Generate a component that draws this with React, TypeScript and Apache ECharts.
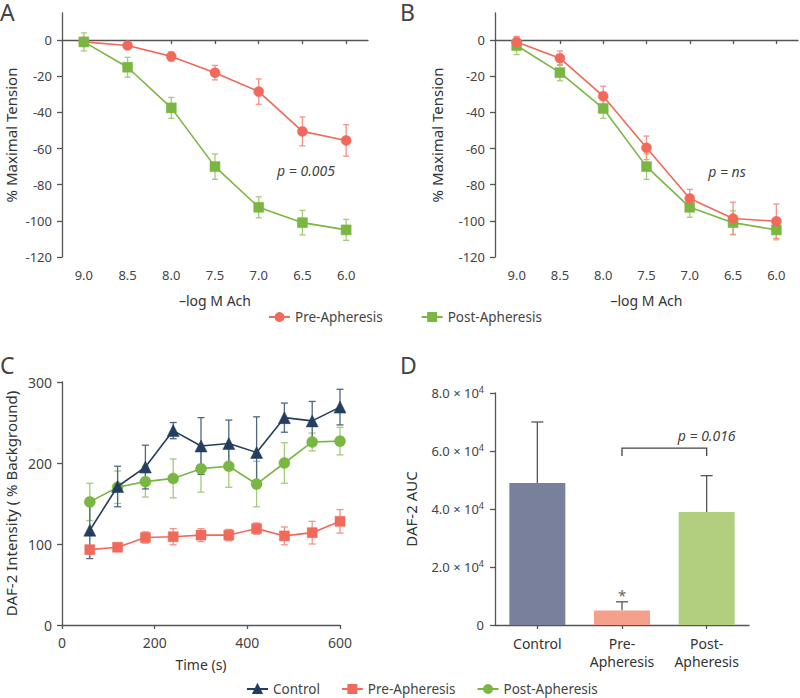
import React, { useEffect, useRef } from "react";
import * as echarts from "echarts";

// ---------- data ----------
const abDoses = ["9.0", "8.5", "8.0", "7.5", "7.0", "6.5", "6.0"];
const abYTicks = [-120, -100, -80, -60, -40, -20, 0];

const aPre = [-1, -3, -9, -18, -28.5, -50.5, -55.5];
const aPreErr = [1, 1, 2.5, 4, 7, 8, 8.7];
const aPost = [-1, -15, -37.5, -70, -92.5, -101, -105];
const aPostErr = [5, 5.5, 5.8, 7, 5.8, 6.8, 5.8];

const bPre = [-1, -10, -31, -59.6, -87.6, -98.7, -100.2];
const bPreErr = [3, 4, 5.5, 6.5, 5, 9, 9.5];
const bPost = [-3, -18, -37.8, -70, -92.5, -101, -105];
const bPostErr = [5, 4.5, 5.5, 7, 5.5, 6.5, 5.5];

const cTimes = [60, 120, 180, 240, 300, 360, 420, 480, 540, 600];
const cControl = [117, 171, 195, 240, 221, 224, 213, 256, 252, 269];
const cControlErr = [35, 25, 27, 10, 35, 29, 44, 18, 24, 22];
const cPre = [93, 96, 108, 109, 111, 111, 119, 110, 114, 128];
const cPreErr = [5, 4, 7, 10, 8, 7, 7, 11, 14, 14.5];
const cPost = [152, 170, 177, 181, 193, 196, 174, 200, 226, 227];
const cPostErr = [23, 20, 19, 24, 29, 26, 28, 25, 11, 17];

const dGroups = ["Control", "Pre-\nApheresis", "Post-\nApheresis"];
const dMean = [49000, 5000, 39000];
const dErr = [21000, 3000, 12500];
const dMarks = ["", "*", ""];
const dBracket = { from: 1, to: 2, top: 61000, leg: 58300, textAt: 65500, text: "p = 0.016" };

// ---------- styles ----------
const RED = "#F0695A";
const RED_ERR = "#F29488";
const GREEN = "#7AB642";
const GREEN_ERR = "#A3CB7A";
const NAVY = "#243E60";
const NAVY_ERR = "#4F6685";
const BAR_COLORS = ["#78809B", "#F4A08A", "#B1CF7E"];
const AXIS = "#555555";
const TEXT = "#444444";
const FONT = "Noto Sans";
const C_PREFIX = "C:";

function errRender(capHalf: number, color: string, lw: number, upOnly: boolean, marks?: string[]) {
  return (params: any, api: any) => {
    const x = api.value(0);
    const y = api.value(1);
    const e = api.value(2);
    const top = api.coord([x, y + e]);
    const bot = api.coord([x, upOnly ? y : y - e]);
    const style = { stroke: color, lineWidth: lw, fill: null };
    const children: any[] = [
      { type: "line", shape: { x1: top[0], y1: top[1], x2: bot[0], y2: bot[1] }, style },
      { type: "line", shape: { x1: top[0] - capHalf, y1: top[1], x2: top[0] + capHalf, y2: top[1] }, style },
    ];
    if (!upOnly) {
      children.push({ type: "line", shape: { x1: bot[0] - capHalf, y1: bot[1], x2: bot[0] + capHalf, y2: bot[1] }, style });
    }
    if (marks && marks[params.dataIndex]) {
      children.push({
        type: "text",
        x: top[0],
        y: top[1] + 1,
        style: { text: marks[params.dataIndex], fill: "#666", fontSize: 15, fontFamily: FONT, align: "center", verticalAlign: "bottom" },
      });
    }
    return { type: "group", children };
  };
}

function bracketRender(params: any, api: any) {
  const l = api.coord([dBracket.from, dBracket.top]);
  const r = api.coord([dBracket.to, dBracket.top]);
  const lLeg = api.coord([dBracket.from, dBracket.leg]);
  const t = api.coord([(dBracket.from + dBracket.to) / 2, dBracket.textAt]);
  return {
    type: "group",
    children: [
      {
        type: "polyline",
        shape: { points: [[l[0], lLeg[1]], [l[0], l[1]], [r[0], r[1]], [r[0], lLeg[1]]] },
        style: { stroke: "#444", lineWidth: 1.3, fill: null },
      },
      {
        type: "text",
        x: t[0],
        y: t[1],
        style: { text: dBracket.text, fill: TEXT, fontSize: 14, fontStyle: "italic", fontFamily: FONT, align: "center", verticalAlign: "middle" },
      },
    ],
  };
}

const axisLine = { show: true, lineStyle: { color: AXIS, width: 1.3 } };
const axisTickOut = { show: true, length: 4, lineStyle: { color: AXIS, width: 1.3 } };
const labelStyle = { color: TEXT, fontSize: 13, fontFamily: FONT };
const nameStyle = { color: "#333", fontSize: 13, fontFamily: FONT };
const yNameStyle = { color: "#333", fontSize: 15, fontFamily: FONT };
const legendText = { color: TEXT, fontSize: 13.5, fontFamily: FONT };

function abXAxis(gridIndex: number) {
  return {
    type: "category",
    gridIndex,
    data: abDoses,
    boundaryGap: true,
    axisLine,
    axisTick: { ...axisTickOut, alignWithLabel: true },
    axisLabel: { ...labelStyle, margin: 11 },
    name: "\u2013log M Ach",
    nameLocation: "middle",
    nameGap: 36,
    nameTextStyle: { ...nameStyle, fontSize: 14 },
    splitLine: { show: false },
  };
}

function abYAxis(gridIndex: number, nameGap: number) {
  return {
    type: "value",
    gridIndex,
    min: -120,
    max: 15,
    axisLine,
    axisTick: { ...axisTickOut, length: 5, customValues: abYTicks },
    axisLabel: { ...labelStyle, margin: 10, customValues: abYTicks },
    splitLine: { show: false },
    name: "% Maximal Tension",
    nameLocation: "middle",
    nameGap,
    nameTextStyle: yNameStyle,
  };
}

function lineSeries(name: string, data: any[], color: string, symbol: string, size: number, xi: number, yi: number, z: number) {
  return {
    type: "line",
    name,
    xAxisIndex: xi,
    yAxisIndex: yi,
    data,
    symbol,
    symbolSize: size,
    itemStyle: { color, borderColor: color, borderWidth: 0.5 },
    lineStyle: { color, width: 1.6 },
    z,
  };
}

function errSeries(data: any[], xi: number, yi: number, color: string, cap: number, upOnly = false, marks?: string[]) {
  return {
    type: "custom",
    xAxisIndex: xi,
    yAxisIndex: yi,
    data,
    encode: { x: 0, y: 1 },
    renderItem: errRender(cap, color, 1.3, upOnly, marks),
    z: 1,
    silent: true,
  };
}

export default function App() {
  const ref = useRef<HTMLDivElement>(null);

  useEffect(() => {
    if (!ref.current) return;
    const chart = echarts.init(ref.current, null, { renderer: "svg" });

    const option: any = {
      animation: false,
      backgroundColor: "#ffffff",
      textStyle: { fontFamily: FONT },
      grid: [
        { left: 62, top: 13, width: 306, height: 244 },
        { left: 495, top: 13, width: 303, height: 244 },
        { left: 62, top: 382, width: 278, height: 243 },
        { left: 495, top: 393, width: 254, height: 232 },
      ],
      xAxis: [
        abXAxis(0),
        abXAxis(1),
        {
          type: "value",
          gridIndex: 2,
          min: 0,
          max: 600,
          interval: 200,
          axisLine,
          axisTick: axisTickOut,
          axisLabel: { ...labelStyle, fontSize: 14, margin: 10 },
          splitLine: { show: false },
          name: "Time (s)",
          nameLocation: "middle",
          nameGap: 32,
          nameTextStyle: { ...nameStyle, fontSize: 14 },
        },
        {
          type: "category",
          gridIndex: 3,
          data: dGroups,
          boundaryGap: true,
          axisLine,
          axisTick: { ...axisTickOut, alignWithLabel: true },
          axisLabel: { ...labelStyle, fontSize: 14, color: "#333", margin: 9, lineHeight: 18 },
        },
      ],
      yAxis: [
        abYAxis(0, 44),
        abYAxis(1, 51),
        {
          type: "value",
          gridIndex: 2,
          min: 0,
          max: 300,
          interval: 100,
          axisLine,
          axisTick: { ...axisTickOut, length: 5 },
          axisLabel: { ...labelStyle, fontSize: 14, margin: 10 },
          splitLine: { show: false },
          name: "DAF-2 Intensity ( % Background)",
          nameLocation: "middle",
          nameGap: 44,
          nameTextStyle: yNameStyle,
        },
        {
          type: "value",
          gridIndex: 3,
          min: 0,
          max: 80000,
          interval: 20000,
          axisLine,
          axisTick: { ...axisTickOut, length: 5 },
          axisLabel: {
            ...labelStyle,
            margin: 11,
            formatter: (v: number) => (v === 0 ? "{m|0}" : `{m|${(v / 10000).toFixed(1)} \u00d7 10}{s|4}`),
            rich: {
              m: { fontSize: 13, color: TEXT, fontFamily: FONT },
              s: { fontSize: 9, color: TEXT, fontFamily: FONT, verticalAlign: "bottom", padding: [0, 0, 8, 0] },
            },
          },
          splitLine: { show: false },
          name: "DAF-2 AUC",
          nameLocation: "middle",
          nameGap: 77,
          nameTextStyle: yNameStyle,
        },
      ],
      legend: [
        {
          left: 263,
          top: 305,
          itemWidth: 21,
          itemHeight: 10,
          itemGap: 38,
          textStyle: legendText,
          data: ["Pre-Apheresis", "Post-Apheresis"],
          selectedMode: false,
        },
        {
          left: 241,
          top: 677,
          itemWidth: 21,
          itemHeight: 10,
          itemGap: 21,
          textStyle: legendText,
          data: ["Control", C_PREFIX + "Pre-Apheresis", C_PREFIX + "Post-Apheresis"],
          formatter: (name: string) => name.replace(C_PREFIX, ""),
          selectedMode: false,
        },
      ],
      graphic: [
        { type: "text", left: 0, top: 0, style: { text: "A", fontSize: 23, fill: TEXT, fontFamily: FONT } },
        { type: "text", left: 400, top: 0, style: { text: "B", fontSize: 23, fill: TEXT, fontFamily: FONT } },
        { type: "text", left: 0, top: 353, style: { text: "C", fontSize: 23, fill: TEXT, fontFamily: FONT } },
        { type: "text", left: 400, top: 353, style: { text: "D", fontSize: 23, fill: TEXT, fontFamily: FONT } },
        { type: "text", x: 306, y: 170, style: { text: "p = 0.005", fontSize: 14, fontStyle: "italic", fill: TEXT, fontFamily: FONT, align: "center", verticalAlign: "middle" } },
        { type: "text", x: 727, y: 171, style: { text: "p = ns", fontSize: 14, fontStyle: "italic", fill: TEXT, fontFamily: FONT, align: "center", verticalAlign: "middle" } },
      ],
      series: [
        // Panel A
        errSeries(aPre.map((v, i) => [i, v, aPreErr[i]]), 0, 0, RED_ERR, 3),
        errSeries(aPost.map((v, i) => [i, v, aPostErr[i]]), 0, 0, GREEN_ERR, 3),
        lineSeries("Pre-Apheresis", aPre, RED, "circle", 10, 0, 0, 2),
        lineSeries("Post-Apheresis", aPost, GREEN, "rect", 10, 0, 0, 3),
        // Panel B
        errSeries(bPost.map((v, i) => [i, v, bPostErr[i]]), 1, 1, GREEN_ERR, 3),
        errSeries(bPre.map((v, i) => [i, v, bPreErr[i]]), 1, 1, RED_ERR, 3),
        lineSeries("Post-Apheresis", bPost, GREEN, "rect", 10, 1, 1, 2),
        lineSeries("Pre-Apheresis", bPre, RED, "circle", 10, 1, 1, 3),
        // Panel C
        errSeries(cTimes.map((t, i) => [t, cPre[i], cPreErr[i]]), 2, 2, RED_ERR, 3.5),
        errSeries(cTimes.map((t, i) => [t, cPost[i], cPostErr[i]]), 2, 2, GREEN_ERR, 3.5),
        errSeries(cTimes.map((t, i) => [t, cControl[i], cControlErr[i]]), 2, 2, NAVY_ERR, 3.5),
        lineSeries(C_PREFIX + "Pre-Apheresis", cTimes.map((t, i) => [t, cPre[i]]), RED, "rect", 10, 2, 2, 2),
        lineSeries(C_PREFIX + "Post-Apheresis", cTimes.map((t, i) => [t, cPost[i]]), GREEN, "circle", 11, 2, 2, 3),
        lineSeries("Control", cTimes.map((t, i) => [t, cControl[i]]), NAVY, "triangle", 12, 2, 2, 4),
        // Panel D
        {
          type: "bar",
          xAxisIndex: 3,
          yAxisIndex: 3,
          barWidth: 56,
          data: dMean.map((v, i) => ({ value: v, itemStyle: { color: BAR_COLORS[i] } })),
          z: 2,
        },
        errSeries(dMean.map((v, i) => [i, v, dErr[i]]), 3, 3, "#555", 6, true, dMarks),
        {
          type: "custom",
          xAxisIndex: 3,
          yAxisIndex: 3,
          data: [[dBracket.from, dBracket.top]],
          encode: { x: 0, y: 1 },
          renderItem: bracketRender,
          silent: true,
          z: 3,
        },
      ],
    };

    chart.setOption(option);
    return () => chart.dispose();
  }, []);

  return <div ref={ref} style={{ position: "fixed", left: 0, top: 0, width: 800, height: 698 }} />;
}
